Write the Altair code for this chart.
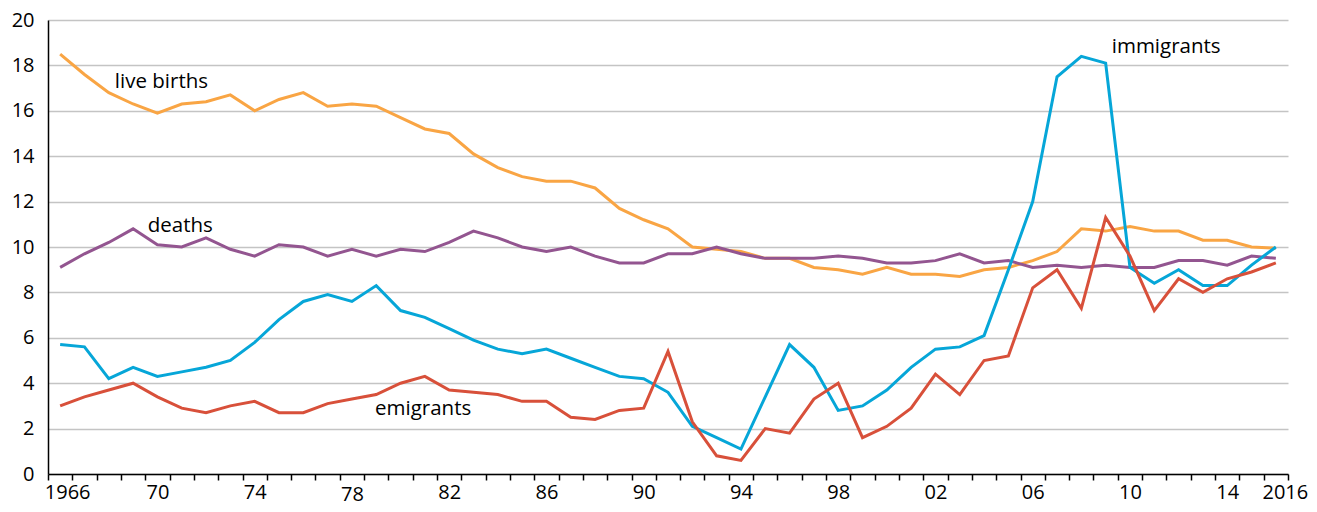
import altair as alt
import pandas as pd

years = list(range(1966, 2017))

live_births = [18.5, 17.6, 16.8, 16.3, 15.9, 16.3, 16.4, 16.7, 16.0, 16.5,
               16.8, 16.2, 16.3, 16.2, 15.7, 15.2, 15.0, 14.1, 13.5, 13.1,
               12.9, 12.9, 12.6, 11.7, 11.2, 10.8, 10.0, 9.9, 9.8, 9.5,
               9.5, 9.1, 9.0, 8.8, 9.1, 8.8, 8.8, 8.7, 9.0, 9.1,
               9.4, 9.8, 10.8, 10.7, 10.9, 10.7, 10.7, 10.3, 10.3, 10.0,
               9.95]
deaths = [9.1, 9.7, 10.2, 10.8, 10.1, 10.0, 10.4, 9.9, 9.6, 10.1,
          10.0, 9.6, 9.9, 9.6, 9.9, 9.8, 10.2, 10.7, 10.4, 10.0,
          9.8, 10.0, 9.6, 9.3, 9.3, 9.7, 9.7, 10.0, 9.7, 9.5,
          9.5, 9.5, 9.6, 9.5, 9.3, 9.3, 9.4, 9.7, 9.3, 9.4,
          9.1, 9.2, 9.1, 9.2, 9.1, 9.1, 9.4, 9.4, 9.2, 9.6,
          9.5]
immigrants = [5.7, 5.6, 4.2, 4.7, 4.3, 4.5, 4.7, 5.0, 5.8, 6.8,
              7.6, 7.9, 7.6, 8.3, 7.2, 6.9, 6.4, 5.9, 5.5, 5.3,
              5.5, 5.1, 4.7, 4.3, 4.2, 3.6, 2.1, 1.6, 1.1, 3.4,
              5.7, 4.7, 2.8, 3.0, 3.7, 4.7, 5.5, 5.6, 6.1, 9.0,
              12.0, 17.5, 18.4, 18.1, 9.1, 8.4, 9.0, 8.3, 8.3, 9.2,
              10.0]
emigrants = [3.0, 3.4, 3.7, 4.0, 3.4, 2.9, 2.7, 3.0, 3.2, 2.7,
             2.7, 3.1, 3.3, 3.5, 4.0, 4.3, 3.7, 3.6, 3.5, 3.2,
             3.2, 2.5, 2.4, 2.8, 2.9, 5.4, 2.3, 0.8, 0.6, 2.0,
             1.8, 3.3, 4.0, 1.6, 2.1, 2.9, 4.4, 3.5, 5.0, 5.2,
             8.2, 9.0, 7.3, 11.3, 9.6, 7.2, 8.6, 8.0, 8.6, 8.9,
             9.3]

series_names = ["live births", "deaths", "immigrants", "emigrants"]
series_colors = ["#F9A544", "#935590", "#06A6D8", "#D8503A"]

label_texts = ["live births", "deaths", "emigrants", "immigrants"]
label_years = [1968.25, 1969.6, 1978.95, 2009.25]
label_values = [17.27, 10.93, 2.86, 18.8]

tick_years = [1965.5 + i for i in range(52)]
label_axis_years = [1966, 1970, 1974, 1978, 1982, 1986, 1990, 1994, 1998,
                    2002, 2006, 2010, 2014, 2016]
y_ticks = list(range(0, 21, 2))

rows = []
for name, vals in zip(series_names, [live_births, deaths, immigrants, emigrants]):
    for y, v in zip(years, vals):
        rows.append({"year": y, "value": v, "series": name})
df = pd.DataFrame(rows)

labels_df = pd.DataFrame({"year": label_years, "value": label_values, "text": label_texts})

FONT = "Open Sans"

x_scale = alt.Scale(domain=[1965.5, 2016.5], nice=False, zero=False)
y_scale = alt.Scale(domain=[0, 20], nice=False)

y_axis = alt.Axis(values=y_ticks, ticks=False, domain=True,
                  domainColor="black", domainWidth=1.5, grid=True,
                  gridColor="#c4c4c4", gridWidth=1.5, labelFont=FONT,
                  labelFontSize=20, labelColor="black", labelPadding=14)

lines = alt.Chart(df).mark_line(strokeWidth=3).encode(
    x=alt.X("year:Q", scale=x_scale, title=None,
            axis=alt.Axis(values=tick_years, labels=False, ticks=True, tickSize=6,
                          tickWidth=1.5, tickColor="black", domain=True,
                          domainColor="black", domainWidth=1.5, grid=False,
                          orient="bottom")),
    y=alt.Y("value:Q", scale=y_scale, title=None, axis=y_axis),
    color=alt.Color("series:N", scale=alt.Scale(domain=series_names, range=series_colors),
                    legend=None),
    order=alt.Order("year:Q"),
)

label_expr = ("(datum.value == 1966 || datum.value == 2016) ? toString(datum.value) : "
              "((datum.value % 100) < 10 ? '0' : '') + toString(datum.value % 100)")

texts = alt.Chart(labels_df).mark_text(
    font=FONT, fontSize=20.5, align="left", baseline="middle", color="black"
).encode(
    x=alt.X("year:Q", scale=x_scale, title=None,
            axis=alt.Axis(values=label_axis_years, labelExpr=label_expr, ticks=False,
                          domain=False, grid=False, orient="bottom", labelFont=FONT,
                          labelFontSize=20, labelColor="black", labelBaseline="top",
                          labelAngle=0, labelFlush=False, labelOverlap=False,
                          labelOffset={"condition": [
                              {"test": "datum.value == 1966", "value": 7},
                              {"test": "datum.value == 2016", "value": 9}],
                              "value": 0},
                          labelPadding={"condition": {"test": "datum.value == 1978",
                                                      "value": 10},
                                        "value": 8})),
    y=alt.Y("value:Q", scale=y_scale, title=None, axis=y_axis),
    text="text:N",
)

chart = alt.layer(lines, texts).resolve_scale(x="shared", y="shared").resolve_axis(
    x="independent"
).properties(
    width=1240, height=454,
    autosize=alt.AutoSizeParams(type="none"),
    padding={"left": 40, "top": 12, "right": 21, "bottom": 30},
).configure_view(stroke=None)

chart.save("out.html", embed_options={"renderer": "svg", "actions": False})
